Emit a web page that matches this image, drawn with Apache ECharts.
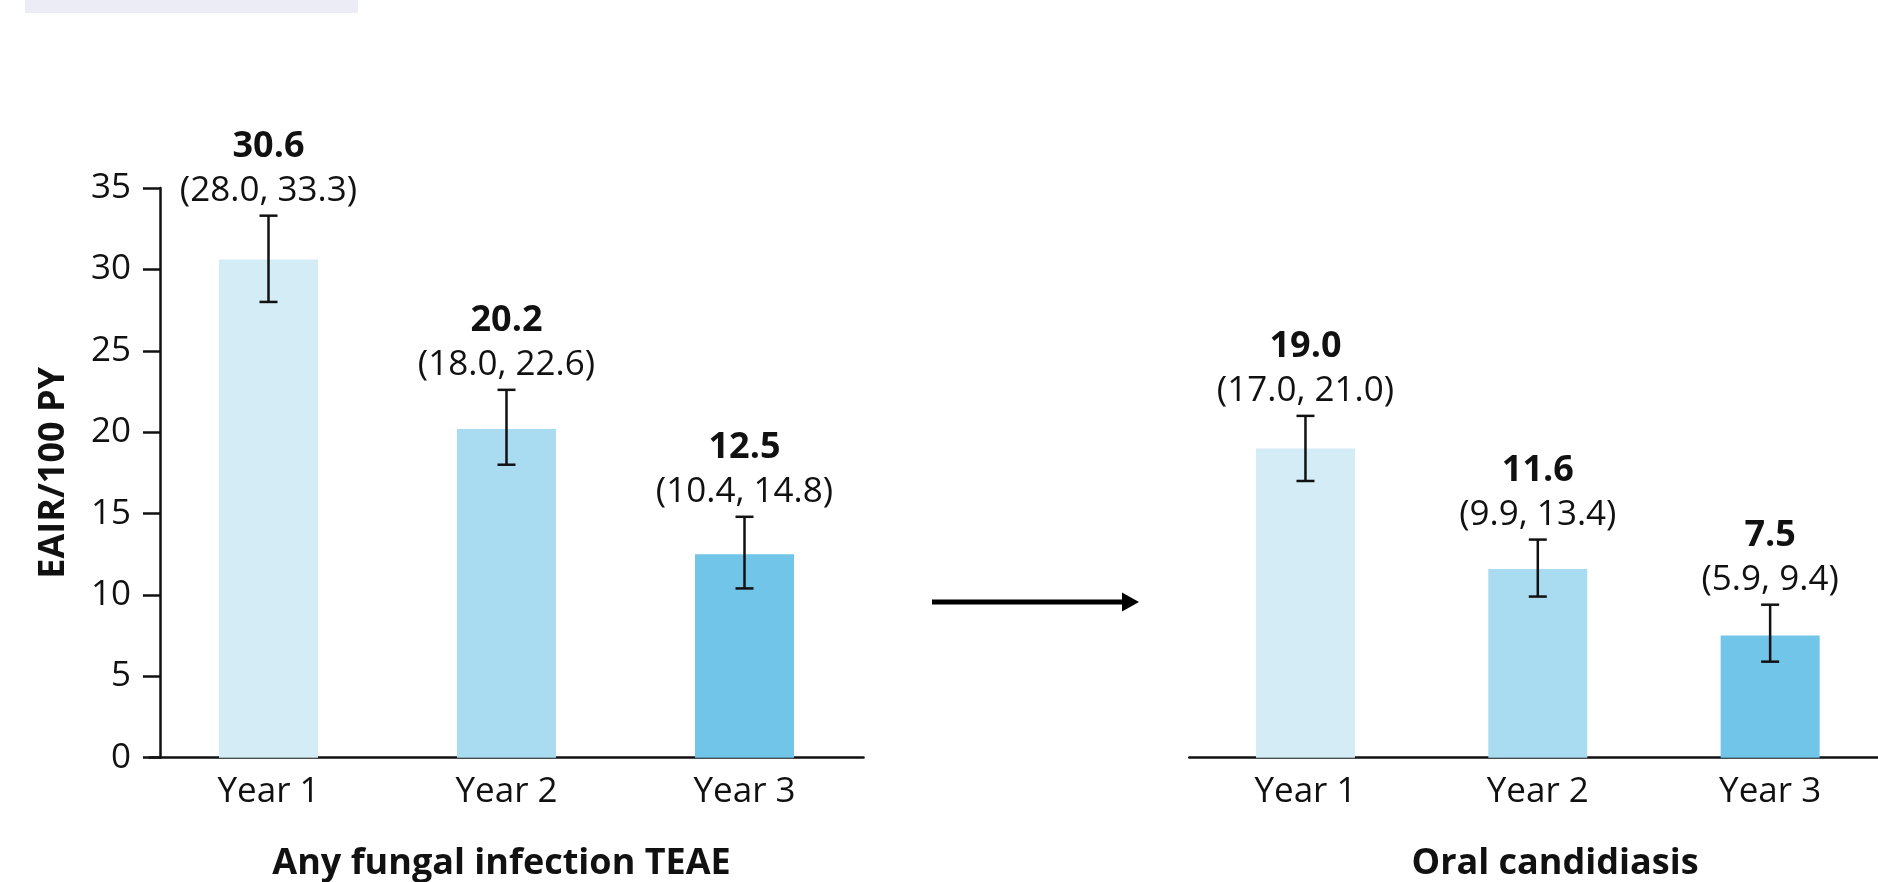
<!DOCTYPE html>
<html>
<head>
<meta charset="utf-8">
<script src="https://cdn.jsdelivr.net/npm/echarts@6/dist/echarts.min.js"></script>
<style>
  html, body { margin: 0; padding: 0; background: #fff; }
  #main { width: 1878px; height: 882px; }
</style>
</head>
<body>
<div id="main"></div>
<script>
// categories + values
const categories = ['Year 1', 'Year 2', 'Year 3'];

const fungalRate = [30.6, 20.2, 12.5];
const fungalLow = [28.0, 18.0, 10.4];
const fungalHigh = [33.3, 22.6, 14.8];

const oralRate = [19.0, 11.6, 7.5];
const oralLow = [17.0, 9.9, 5.9];
const oralHigh = [21.0, 13.4, 9.4];

const panelTitles = ['Any fungal infection TEAE', 'Oral candidiasis'];
const yName = 'EAIR/100 PY';

const barColors = ['#d4ecf6', '#a9dcf0', '#70c5e8'];
const FONT = '"Open Sans", "Noto Sans", sans-serif';

var myChart = echarts.init(document.getElementById('main'));

function barData(vals) {
  return vals.map(function (v, i) {
    return { value: v, itemStyle: { color: barColors[i] } };
  });
}

function errData(rate, low, high) {
  return rate.map(function (v, i) {
    return [i, low[i], high[i], v];
  });
}

// error bar + the two labels above it
function renderErr(params, api) {
  var i = api.value(0);
  var lo = api.coord([i, api.value(1)]);
  var hi = api.coord([i, api.value(2)]);
  var half = 9;
  var ls = { stroke: '#111', lineWidth: 2.5 };
  return {
    type: 'group',
    children: [
      { type: 'line', shape: { x1: hi[0], y1: hi[1], x2: lo[0], y2: lo[1] }, style: ls },
      { type: 'line', shape: { x1: hi[0] - half, y1: hi[1], x2: hi[0] + half, y2: hi[1] }, style: ls },
      { type: 'line', shape: { x1: lo[0] - half, y1: lo[1], x2: lo[0] + half, y2: lo[1] }, style: ls },
      {
        type: 'text', x: hi[0], y: hi[1] - 25,
        style: {
          text: '(' + api.value(1).toFixed(1) + ', ' + api.value(2).toFixed(1) + ')',
          fill: '#111', font: '35px ' + FONT, align: 'center', verticalAlign: 'middle'
        }
      },
      {
        type: 'text', x: hi[0], y: hi[1] - 69,
        style: {
          text: api.value(3).toFixed(1),
          fill: '#111', font: 'bold 36px ' + FONT, align: 'center', verticalAlign: 'middle'
        }
      }
    ]
  };
}

var axisLabelStyle = { color: '#111', fontSize: 35, fontFamily: FONT };

myChart.setOption({
  backgroundColor: '#fff',
  animation: false,
  grid: [
    { left: 149.5, width: 714, top: 188, bottom: 124.3, outerBoundsMode: 'none' },
    { left: 1189.3, width: 697, top: 188, bottom: 124.3, outerBoundsMode: 'none' }
  ],
  xAxis: [
    {
      type: 'category', gridIndex: 0, data: categories,
      axisLine: { lineStyle: { color: '#111', width: 2.5 } },
      axisTick: { show: false },
      axisLabel: Object.assign({ margin: 17 }, axisLabelStyle)
    },
    {
      type: 'category', gridIndex: 1, data: categories,
      axisLine: { lineStyle: { color: '#111', width: 2.5 } },
      axisTick: { show: false },
      axisLabel: Object.assign({ margin: 17 }, axisLabelStyle)
    }
  ],
  yAxis: [
    {
      type: 'value', gridIndex: 0, min: 0, max: 35, interval: 5,
      offset: -10.5,
      name: yName, nameLocation: 'middle', nameGap: 88,
      nameTextStyle: { color: '#111', fontSize: 36, fontWeight: 'bold', fontFamily: FONT },
      axisLine: { show: true, lineStyle: { color: '#111', width: 2.5 } },
      axisTick: { show: true, length: 17, lineStyle: { color: '#111', width: 2.5 } },
      axisLabel: Object.assign({ margin: 29 }, axisLabelStyle),
      splitLine: { show: false }
    },
    {
      type: 'value', gridIndex: 1, min: 0, max: 35, interval: 5, show: false,
      splitLine: { show: false }
    }
  ],
  graphic: [
    // light header strip top-left
    { type: 'rect', shape: { x: 25, y: 0, width: 333, height: 13 }, style: { fill: '#ececf6' } },
    // arrow between panels
    { type: 'line', shape: { x1: 932, y1: 602, x2: 1125, y2: 602 }, style: { stroke: '#000', lineWidth: 5 } },
    { type: 'polygon', shape: { points: [[1122, 592.5], [1139, 602], [1122, 611.5]] }, style: { fill: '#000' } },
    {
      type: 'text', x: 501.5, y: 863.5,
      style: { text: panelTitles[0], fill: '#111', font: 'bold 36px ' + FONT, align: 'center', verticalAlign: 'middle' }
    },
    {
      type: 'text', x: 1555, y: 863.5,
      style: { text: panelTitles[1], fill: '#111', font: 'bold 36px ' + FONT, align: 'center', verticalAlign: 'middle' }
    }
  ],
  series: [
    { type: 'bar', xAxisIndex: 0, yAxisIndex: 0, barWidth: 99, data: barData(fungalRate) },
    { type: 'bar', xAxisIndex: 1, yAxisIndex: 1, barWidth: 99, data: barData(oralRate) },
    { type: 'custom', xAxisIndex: 0, yAxisIndex: 0, renderItem: renderErr, data: errData(fungalRate, fungalLow, fungalHigh), z: 5 },
    { type: 'custom', xAxisIndex: 1, yAxisIndex: 1, renderItem: renderErr, data: errData(oralRate, oralLow, oralHigh), z: 5 }
  ]
});
</script>
</body>
</html>
